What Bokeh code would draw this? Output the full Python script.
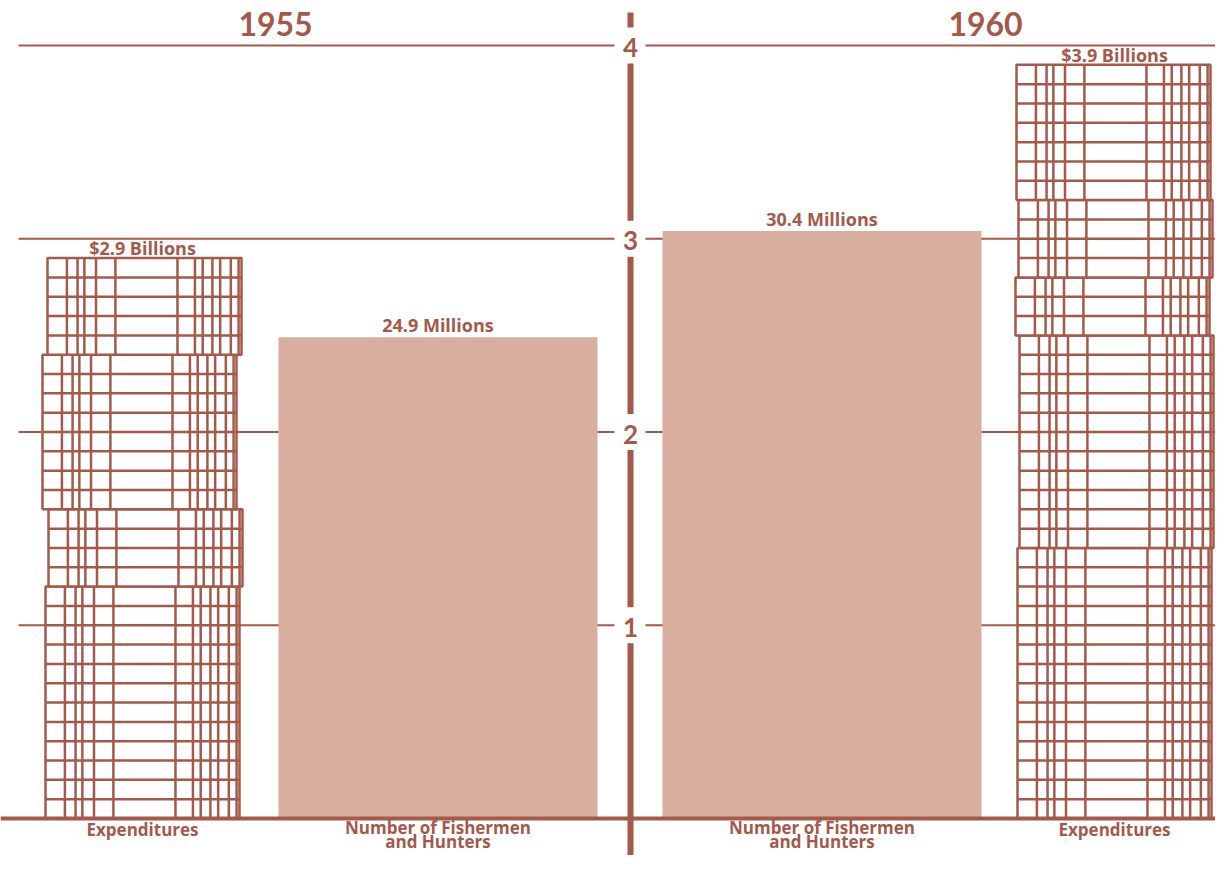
import numpy as np
from bokeh.plotting import figure
from bokeh.models import Range1d
from bokeh.core.properties import value
from bokeh.embed import file_html
from bokeh.resources import INLINE

# ---------------- data ----------------
years = ["1955", "1960"]
expenditures_billions = [2.9, 3.9]          # $ billions
fishermen_millions = [24.9, 30.4]           # millions of people
expenditure_labels = ["$2.9 Billions", "$3.9 Billions"]
fishermen_labels = ["24.9 Millions", "30.4 Millions"]
category_expenditures = "Expenditures"
category_fishermen = ["Number of Fishermen", "and Hunters"]
tick_values = [1, 2, 3, 4]
tick_labels = ["1", "2", "3", "4"]

# ---------------- style / layout ----------------
BROWN = "#A4594B"
FILL = "#D8AE9E"
NUM_FONT = "Lato"
TXT_FONT = "Open Sans"
W, H = 1215, 855
PX_PER_UNIT = 193.25
ZERO_REF = 818.0
def Y(ref_px):
    return (ZERO_REF - ref_px) / PX_PER_UNIT
def PX(n):
    return n / PX_PER_UNIT

# per-year layout (reference pixel x)
exp_left = [45, 1017]
exp_width = 194
fish_left = [278, 662]
fish_width = 319
year_x = [275, 985]
AXIS_X = 630

bill_fracs = [0.10, 0.155, 0.19, 0.25, 0.35, 0.67, 0.76, 0.80, 0.85, 0.89, 0.945, 0.985]
bundle_rows = [[12, 4, 8, 5], [14, 11, 3, 4, 7]]
bundle_dx = [[0, 3, -3, 2], [0, 2, -2, 1, -1]]

p = figure(width=W, height=H, output_backend="svg", toolbar_location=None,
           x_range=Range1d(0, W), y_range=Range1d(Y(H), Y(0)),
           min_border=0, background_fill_color="white", border_fill_color="white")
p.outline_line_color = None
p.xaxis.visible = False
p.yaxis.visible = False
p.grid.visible = False

# gridlines (behind bars)
for t in tick_values:
    p.segment(x0=[18, 645], y0=[t, t], x1=[614, 1240], y1=[t, t],
              line_color=BROWN, line_width=2.2)

# fishermen bars
fish_units = [v / 10.0 for v in fishermen_millions]
p.quad(left=fish_left, right=[l + fish_width for l in fish_left],
       bottom=[0, 0], top=fish_units, fill_color=FILL, line_color=None)

# expenditure bars drawn as stacks of bills (one row per $0.1 billion)
for i, val in enumerate(expenditures_billions):
    rows = int(round(val * 10))
    start = 0
    b = 0
    pat = bundle_rows[i]
    dxs = bundle_dx[i]
    while start < rows:
        n = min(pat[b % len(pat)], rows - start)
        dx = dxs[b % len(dxs)]
        y0 = start / 10.0
        y1 = min((start + n) / 10.0, val)
        xl = exp_left[i] + dx
        xr = xl + exp_width
        p.quad(left=[xl], right=[xr], bottom=[y0], top=[y1],
               fill_color="white", line_color=BROWN, line_width=2.5)
        hy = [y0 + k / 10.0 for k in range(1, n)]
        if hy:
            p.segment(x0=[xl] * len(hy), y0=hy, x1=[xr] * len(hy), y1=hy,
                      line_color=BROWN, line_width=2.5)
        vx = [xl + f * exp_width for f in bill_fracs]
        p.segment(x0=vx, y0=[y0] * len(vx), x1=vx, y1=[y1] * len(vx),
                  line_color=BROWN, line_width=2.5)
        start += n
        b += 1

# baseline
p.segment(x0=[0], y0=[0], x1=[1240], y1=[0], line_color=BROWN, line_width=4)

# central axis with gaps around tick labels
gap = PX(18)
stops = [Y(12)] + sum([[t + gap, t - gap] for t in sorted(tick_values, reverse=True)], []) + [Y(866)]
ys0 = stops[0::2]
ys1 = stops[1::2]
p.segment(x0=[AXIS_X] * len(ys0), y0=ys0, x1=[AXIS_X] * len(ys1), y1=ys1,
          line_color=BROWN, line_width=6)
p.text(x=[AXIS_X] * len(tick_values), y=[t - PX(2) for t in tick_values], text=tick_labels,
       text_font=value(NUM_FONT), text_font_style="bold", text_font_size="26px",
       text_color=BROWN, text_align="center", text_baseline="middle")

# year titles
p.text(x=year_x, y=[Y(23)] * 2, text=years, text_font=value(NUM_FONT),
       text_font_style="bold", text_font_size="32px", text_color=BROWN,
       text_align="center", text_baseline="middle")

# value labels above bars
exp_cx = [l + exp_width / 2 for l in exp_left]
fish_cx = [l + fish_width / 2 for l in fish_left]
lab_kw = dict(text_font=value(TXT_FONT), text_font_style="bold", text_font_size="18px",
              text_color=BROWN, text_align="center", text_baseline="alphabetic")
p.text(x=exp_cx, y=[v + PX(10) for v in expenditures_billions], text=expenditure_labels, **lab_kw)
p.text(x=fish_cx, y=[v + PX(12) for v in fish_units], text=fishermen_labels, **lab_kw)

# category labels
cat_kw = dict(text_font=value(TXT_FONT), text_font_style="bold", text_font_size="17px",
              text_color=BROWN, text_align="center", text_baseline="middle")
p.text(x=exp_cx, y=[Y(829)] * 2, text=[category_expenditures] * 2, **cat_kw)
p.text(x=fish_cx, y=[Y(827)] * 2, text=[category_fishermen[0]] * 2, **cat_kw)
p.text(x=fish_cx, y=[Y(841)] * 2, text=[category_fishermen[1]] * 2, **cat_kw)

open("out.html", "w").write(file_html(p, INLINE))
